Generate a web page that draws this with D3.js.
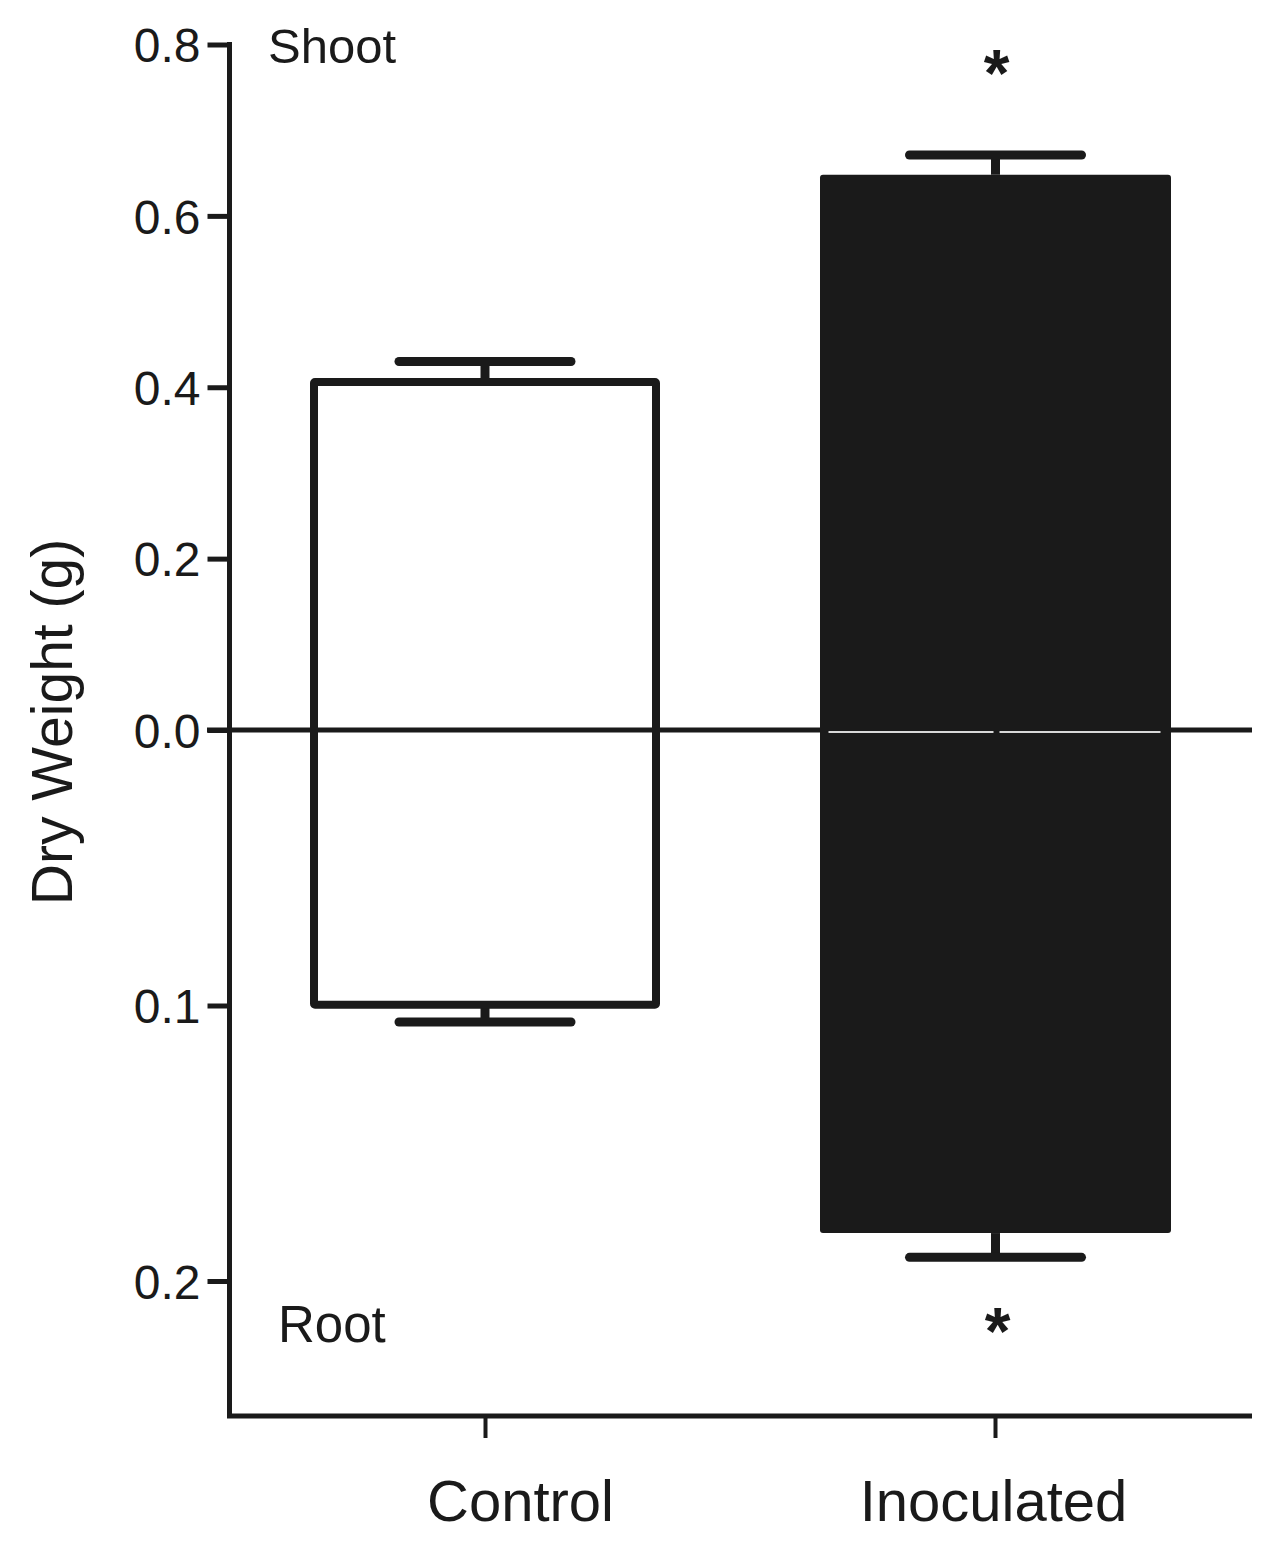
<!DOCTYPE html>
<html>
<head>
<meta charset="utf-8">
<script src="https://d3js.org/d3.v7.min.js"></script>
<style>
  html, body { margin: 0; padding: 0; background: #ffffff; }
  svg { display: block; font-family: "Liberation Sans", Arial, sans-serif; }
</style>
</head>
<body>
<svg id="chart" width="1288" height="1553"></svg>
<script>
// ---- data ----
const categories = ["Control", "Inoculated"];
const shootMean = [0.406, 0.648];
const shootErr = [0.024, 0.023];
const rootMean = [0.0997, 0.1826];
const rootErr = [0.0063, 0.0088];
const significant = [false, true];
const shootTicks = [0.0, 0.2, 0.4, 0.6, 0.8];
const rootTicks = [0.1, 0.2];
const yLabel = "Dry Weight (g)";
const shootLabel = "Shoot";
const rootLabel = "Root";

const ink = "#1a1a1a";
const svg = d3.select("#chart");

// ---- scales ----
const yShoot = d3.scaleLinear().domain([0, 0.8]).range([730, 44.5]);
const yRoot = d3.scaleLinear().domain([0, 0.249]).range([730, 1416]);
const x = d3.scalePoint().domain(categories).range([485, 995]);
const axisX0 = 229.5, axisX1 = 1252, axisBottom = 1416;

// zero line
svg.append("line")
  .attr("x1", 207).attr("x2", axisX1)
  .attr("y1", yShoot(0)).attr("y2", yShoot(0))
  .attr("stroke", ink).attr("stroke-width", 5);

// ---- bars ----
const barW = [342, 351];
const fills = ["none", ink];
const strokes = [ink, "none"];
categories.forEach((c, i) => {
  const cx = x(c) + (i === 1 ? 0.5 : 0);
  const top = yShoot(shootMean[i]);
  const bot = yRoot(rootMean[i]);
  // error bars (shoot)
  const eTop = yShoot(shootMean[i] + shootErr[i]);
  const eBot = yRoot(rootMean[i] + rootErr[i]);
  const g = svg.append("g");
  g.append("line").attr("x1", cx).attr("x2", cx).attr("y1", eTop).attr("y2", top)
    .attr("stroke", ink).attr("stroke-width", 9);
  g.append("line").attr("x1", cx - 86).attr("x2", cx + 86).attr("y1", eTop).attr("y2", eTop)
    .attr("stroke", ink).attr("stroke-width", 9).attr("stroke-linecap", "round");
  g.append("line").attr("x1", cx).attr("x2", cx).attr("y1", bot).attr("y2", eBot)
    .attr("stroke", ink).attr("stroke-width", 9);
  g.append("line").attr("x1", cx - 86).attr("x2", cx + 86).attr("y1", eBot).attr("y2", eBot)
    .attr("stroke", ink).attr("stroke-width", 9).attr("stroke-linecap", "round");
  // bar
  svg.append("rect")
    .attr("x", cx - barW[i] / 2).attr("width", barW[i])
    .attr("y", top).attr("height", bot - top)
    .attr("fill", fills[i]).attr("stroke", strokes[i])
    .attr("stroke-width", 8).attr("stroke-linejoin", "round")
    .attr("rx", i === 1 ? 3 : 1);
  if (i === 1) {
    svg.append("line").attr("x1", cx - 167).attr("x2", cx - 2)
      .attr("y1", yShoot(0) + 2).attr("y2", yShoot(0) + 2)
      .attr("stroke", "#d8d8d8").attr("stroke-width", 2);
    svg.append("line").attr("x1", cx + 4).attr("x2", cx + 165)
      .attr("y1", yShoot(0) + 2).attr("y2", yShoot(0) + 2)
      .attr("stroke", "#d8d8d8").attr("stroke-width", 2);
  }
  if (significant[i]) {
    svg.append("text").attr("x", cx + 1).attr("y", 96)
      .attr("text-anchor", "middle").attr("font-size", 66).attr("font-weight", "bold")
      .attr("fill", ink).text("*");
    svg.append("text").attr("x", cx + 2).attr("y", 1354)
      .attr("text-anchor", "middle").attr("font-size", 66).attr("font-weight", "bold")
      .attr("fill", ink).text("*");
  }
});

// ---- axes ----
const fmt = d3.format(".1f");
function styleAxis(g) {
  g.select(".domain").remove();
  g.selectAll(".tick line").attr("stroke", ink).attr("stroke-width", 5);
  g.selectAll(".tick text").attr("fill", ink).attr("font-size", 48)
    .attr("font-family", "Liberation Sans, Arial, sans-serif").attr("dy", "0.36em");
}
svg.append("g").attr("transform", `translate(${axisX0},0)`)
  .call(d3.axisLeft(yShoot).tickValues(shootTicks).tickFormat(fmt).tickSize(22).tickPadding(7))
  .call(styleAxis);
svg.append("g").attr("transform", `translate(${axisX0},0)`)
  .call(d3.axisLeft(yRoot).tickValues(rootTicks).tickFormat(fmt).tickSize(22).tickPadding(7))
  .call(styleAxis);

// axis lines
svg.append("path")
  .attr("d", `M${axisX0},${yShoot(0.8) - 2.5}V${axisBottom}H${axisX1}`)
  .attr("fill", "none").attr("stroke", ink).attr("stroke-width", 5);

const xg = svg.append("g").attr("transform", `translate(0,${axisBottom})`)
  .call(d3.axisBottom(x).tickSize(22).tickPadding(42));
xg.select(".domain").remove();
xg.selectAll(".tick line").attr("stroke", ink).attr("stroke-width", 4);
xg.selectAll(".tick text").attr("fill", ink).attr("font-size", 58)
  .attr("font-family", "Liberation Sans, Arial, sans-serif")
  .attr("dx", (d, i) => i === 0 ? 35 : -2);

// labels
svg.append("text").attr("transform", "translate(72,722) rotate(-90)")
  .attr("text-anchor", "middle").attr("font-size", 57).attr("fill", ink).text(yLabel);
svg.append("text").attr("x", 268).attr("y", 63).attr("font-size", 49).attr("fill", ink).text(shootLabel);
svg.append("text").attr("x", 278).attr("y", 1342).attr("font-size", 51).attr("fill", ink).text(rootLabel);
</script>
</body>
</html>
